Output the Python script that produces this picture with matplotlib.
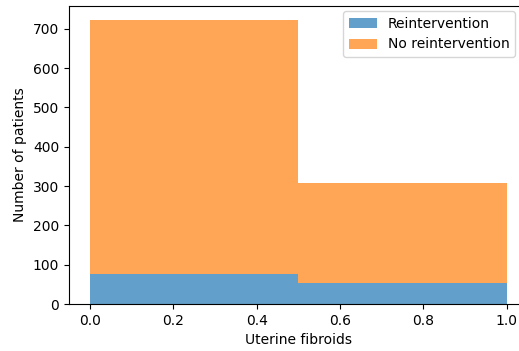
import matplotlib
matplotlib.use("Agg")
import matplotlib.pyplot as plt
import numpy as np

# two bins of the uterine fibroids flag (0 / 1)
bin_edges = [0.0, 0.5, 1.0]
bin_centers = [0.25, 0.75]
reintervention = [77, 53]
no_reintervention = [645, 254]
labels = ["Reintervention", "No reintervention"]

W, H = 519, 351
DPI = 100
fig = plt.figure(figsize=(W / DPI, H / DPI), dpi=DPI)
ax = fig.add_axes([69 / W, (H - 304) / H, (527.5 - 69) / W, (304 - 6) / H])

ax.hist([bin_centers, bin_centers], bins=bin_edges,
        weights=[reintervention, no_reintervention],
        stacked=True, alpha=0.7, label=labels)

ax.set_xlabel("Uterine fibroids")
ax.set_ylabel("Number of patients")
ax.legend(loc="upper right", bbox_to_anchor=(515 / W, 1 - 11 / H),
          bbox_transform=fig.transFigure, borderaxespad=0)

fig.savefig("out.png", dpi=DPI)
